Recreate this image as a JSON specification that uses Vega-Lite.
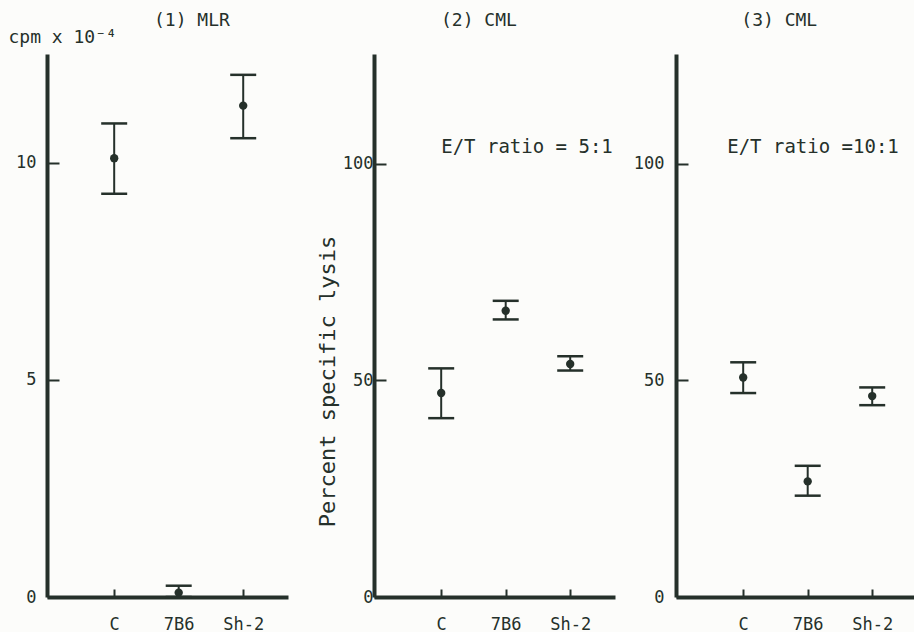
{
  "$schema": "https://vega.github.io/schema/vega-lite/v6.json",
  "background": "#fcfcfa",
  "padding": {"left": 8, "top": 12, "right": 0, "bottom": 0},
  "bounds": "flush",
  "spacing": 86,
  "datasets": {
    "p1": [
      {"group": "C", "mean": 10.11, "lo": 9.29, "hi": 10.91},
      {"group": "7B6", "mean": 0.1, "lo": 0.0, "hi": 0.26},
      {"group": "Sh-2", "mean": 11.32, "lo": 10.57, "hi": 12.03}
    ],
    "p2": [
      {"group": "C", "mean": 47.1, "lo": 41.3, "hi": 52.8},
      {"group": "7B6", "mean": 66.1, "lo": 64.1, "hi": 68.4},
      {"group": "Sh-2", "mean": 53.8, "lo": 52.3, "hi": 55.6}
    ],
    "p3": [
      {"group": "C", "mean": 50.7, "lo": 47.1, "hi": 54.2},
      {"group": "7B6", "mean": 26.7, "lo": 23.4, "hi": 30.3},
      {"group": "Sh-2", "mean": 46.4, "lo": 44.3, "hi": 48.4}
    ]
  },
  "hconcat": [
    {
      "width": 241,
      "height": 543,
      "data": {"name": "p1"},
      "title": {"text": "(1) MLR", "anchor": "start", "dx": 146, "offset": -2},
      "encoding": {
        "x": {"field": "group", "type": "ordinal", "title": null,
              "scale": {"type": "point", "domain": ["C", "7B6", "Sh-2"], "padding": 0.868, "align": 0.6},
              "axis": {"tickSize": -8, "labelPadding": 27}}
      },
      "layer": [
        {"mark": {"type": "rule", "color": "#25302a", "strokeWidth": 2},
         "encoding": {
           "y": {"field": "lo", "type": "quantitative", "title": "cpm x 10⁻⁴",
                 "scale": {"domain": [0, 12.51], "nice": false, "zero": true},
                 "axis": {"values": [0, 5, 10], "tickSize": -12, "labelPadding": 23, "titleAngle": 0, "titleX": -39, "titleY": -17, "titleAlign": "left", "titleBaseline": "middle"}},
           "y2": {"field": "hi"}}},
        {"mark": {"type": "tick", "color": "#25302a", "thickness": 2.5, "size": 26, "opacity": 1},
         "encoding": {"y": {"field": "lo", "type": "quantitative", "title": "cpm x 10⁻⁴"}}},
        {"mark": {"type": "tick", "color": "#25302a", "thickness": 2.5, "size": 26, "opacity": 1},
         "encoding": {"y": {"field": "hi", "type": "quantitative", "title": "cpm x 10⁻⁴"}}},
        {"mark": {"type": "point", "filled": true, "color": "#25302a", "size": 70, "opacity": 1},
         "encoding": {"y": {"field": "mean", "type": "quantitative", "title": "cpm x 10⁻⁴"}}}
      ]
    },
    {
      "spacing": 61,
      "bounds": "flush",
      "hconcat": [
        {
          "width": 241,
          "height": 543,
          "data": {"name": "p2"},
          "title": {"text": "(2) CML", "anchor": "start", "dx": 125, "offset": 24},
          "encoding": {
            "x": {"field": "group", "type": "ordinal", "title": null,
                  "scale": {"type": "point", "domain": ["C", "7B6", "Sh-2"], "padding": 0.868, "align": 0.6},
                  "axis": {"tickSize": -8, "labelPadding": 27}}
          },
          "layer": [
            {"mark": {"type": "rule", "color": "#25302a", "strokeWidth": 2},
             "encoding": {
               "y": {"field": "lo", "type": "quantitative", "title": "Percent specific lysis",
                     "scale": {"domain": [0, 125.4], "nice": false, "zero": true},
                     "axis": {"values": [0, 50, 100], "tickSize": -12, "labelPadding": 13, "titleAngle": -90, "titleX": -47, "titleY": 327, "titleAlign": "center", "titleBaseline": "middle", "titleFontSize": 22}},
               "y2": {"field": "hi"}}},
            {"mark": {"type": "tick", "color": "#25302a", "thickness": 2.5, "size": 26, "opacity": 1},
             "encoding": {"y": {"field": "lo", "type": "quantitative", "title": "Percent specific lysis"}}},
            {"mark": {"type": "tick", "color": "#25302a", "thickness": 2.5, "size": 26, "opacity": 1},
             "encoding": {"y": {"field": "hi", "type": "quantitative", "title": "Percent specific lysis"}}},
            {"mark": {"type": "point", "filled": true, "color": "#25302a", "size": 70, "opacity": 1},
             "encoding": {"y": {"field": "mean", "type": "quantitative", "title": "Percent specific lysis"}}},
            {"data": {"values": [{}]},
             "mark": {"type": "text", "align": "left", "baseline": "middle", "fontSize": 19, "font": "DejaVu Sans Mono", "color": "#25302a"},
             "encoding": {"x": {"datum": "C", "type": "ordinal"}, "y": {"datum": 104, "type": "quantitative"}, "text": {"value": "E/T ratio = 5:1"}}}
          ]
        },
        {
          "width": 241,
          "height": 543,
          "data": {"name": "p3"},
          "title": {"text": "(3) CML", "anchor": "start", "dx": 108, "offset": 24},
          "encoding": {
            "x": {"field": "group", "type": "ordinal", "title": null,
                  "scale": {"type": "point", "domain": ["C", "7B6", "Sh-2"], "padding": 0.868, "align": 0.6},
                  "axis": {"tickSize": -8, "labelPadding": 27}}
          },
          "layer": [
            {"mark": {"type": "rule", "color": "#25302a", "strokeWidth": 2},
             "encoding": {
               "y": {"field": "lo", "type": "quantitative", "title": null,
                     "scale": {"domain": [0, 125.4], "nice": false, "zero": true},
                     "axis": {"values": [0, 50, 100], "tickSize": -12, "labelPadding": 24}},
               "y2": {"field": "hi"}}},
            {"mark": {"type": "tick", "color": "#25302a", "thickness": 2.5, "size": 26, "opacity": 1},
             "encoding": {"y": {"field": "lo", "type": "quantitative", "title": null}}},
            {"mark": {"type": "tick", "color": "#25302a", "thickness": 2.5, "size": 26, "opacity": 1},
             "encoding": {"y": {"field": "hi", "type": "quantitative", "title": null}}},
            {"mark": {"type": "point", "filled": true, "color": "#25302a", "size": 70, "opacity": 1},
             "encoding": {"y": {"field": "mean", "type": "quantitative", "title": null}}},
            {"data": {"values": [{}]},
             "mark": {"type": "text", "align": "left", "baseline": "middle", "fontSize": 19, "font": "DejaVu Sans Mono", "color": "#25302a", "dx": -16},
             "encoding": {"x": {"datum": "C", "type": "ordinal"}, "y": {"datum": 104, "type": "quantitative"}, "text": {"value": "E/T ratio =10:1"}}}
          ]
        }
      ]
    }
  ],
  "config": {
    "view": {"stroke": null},
    "font": "DejaVu Sans Mono",
    "title": {"font": "DejaVu Sans Mono", "fontSize": 18, "fontWeight": "normal", "color": "#25302a"},
    "axis": {
      "grid": false,
      "ticks": true,
      "domainColor": "#25302a",
      "domainWidth": 4,
      "tickColor": "#25302a",
      "tickWidth": 2,
      "labelFont": "DejaVu Sans Mono",
      "labelFontSize": 17,
      "labelColor": "#25302a",
      "titleFont": "DejaVu Sans Mono",
      "titleFontSize": 18,
      "titleFontWeight": "normal",
      "titleColor": "#25302a"
    },
    "axisX": {"labelAngle": 0}
  }
}
